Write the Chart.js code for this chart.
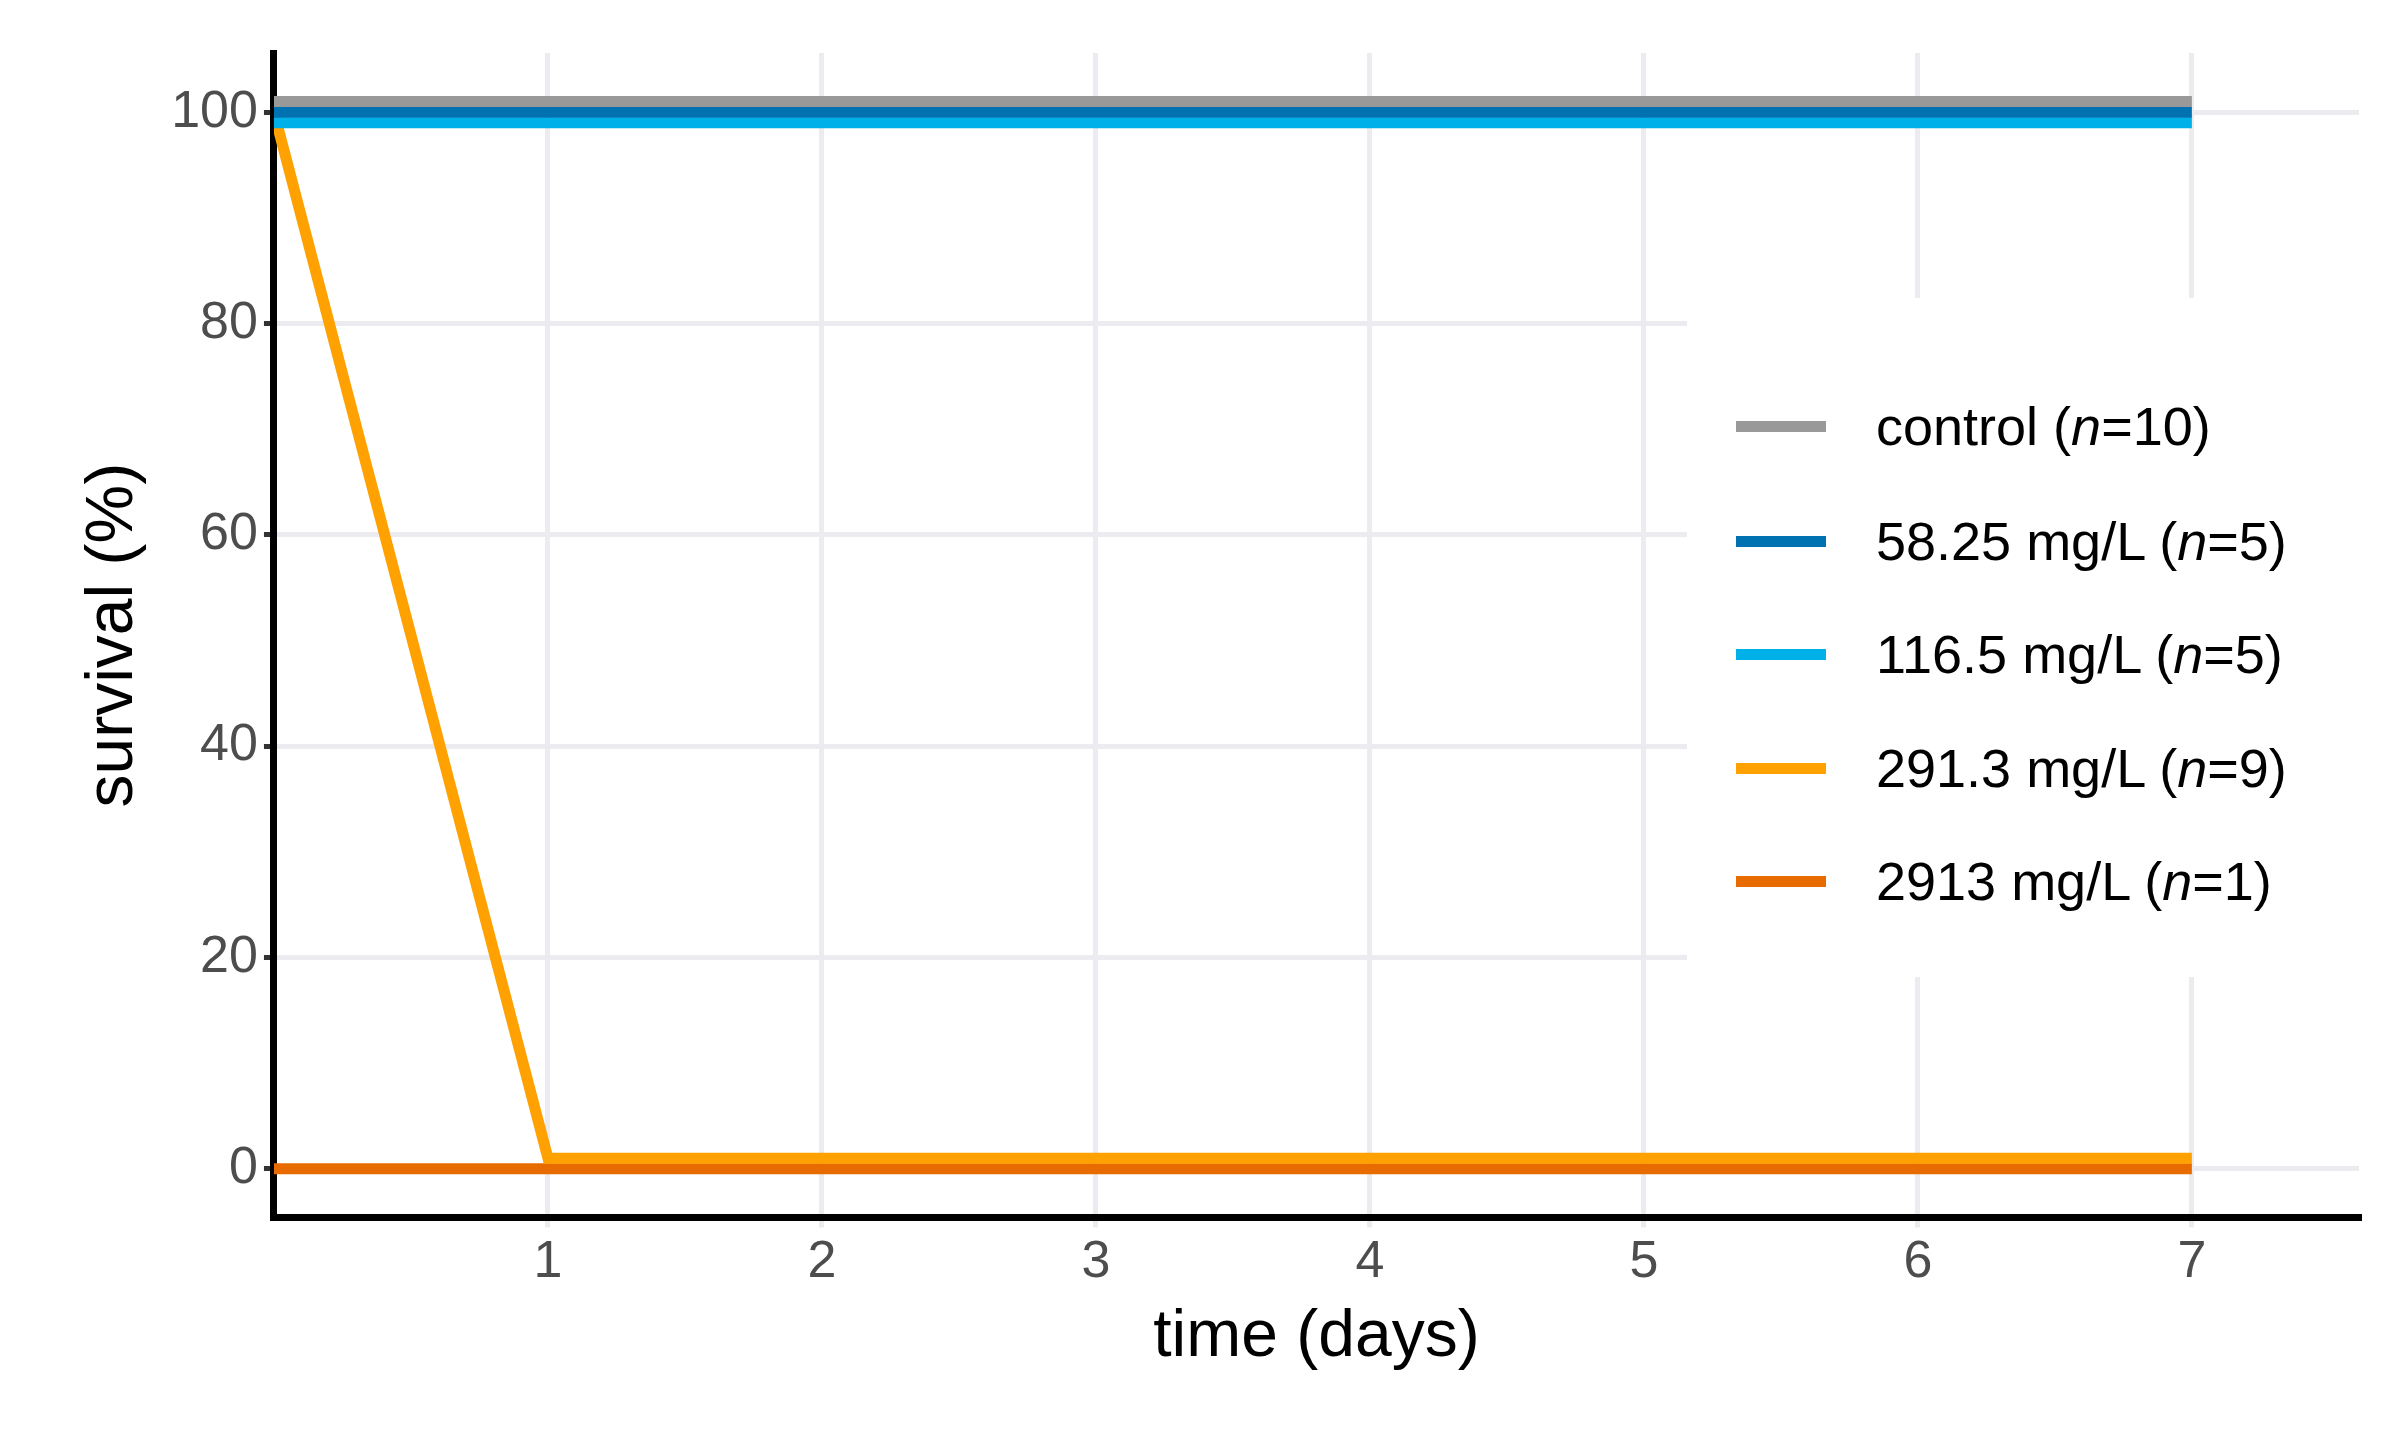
<!DOCTYPE html>
<html>
<head>
<meta charset="utf-8">
<script src="https://cdn.jsdelivr.net/npm/chart.js@4"></script>
<style>
  html, body { margin: 0; padding: 0; background: #fff; }
  #wrap { position: relative; width: 2382px; height: 1436px; }
  #legend { position: absolute; left: 1687px; top: 298px; width: 672px; height: 679px; background: #fff;
            font-family: "Liberation Sans", Arial, sans-serif; font-size: 54px; color: #000; }
  .row { position: absolute; left: 0; height: 60px; display: flex; align-items: center; }
  .sw { width: 90px; height: 11px; margin-left: 49px; margin-right: 50px; }
</style>
</head>
<body>
<div id="wrap">
  <canvas id="c" width="2382" height="1436"></canvas>
  <div id="legend"></div>
</div>
<script>
// survival data (small offsets separate overlapping lines)
const days = [0, 1, 2, 3, 4, 5, 6, 7];
const seriesNames = ['control (<i>n</i>=10)', '58.25 mg/L (<i>n</i>=5)', '116.5 mg/L (<i>n</i>=5)', '291.3 mg/L (<i>n</i>=9)', '2913 mg/L (<i>n</i>=1)'];
const seriesColors = ['#999999', '#0072b2', '#00b0e8', '#ffa100', '#e86b00'];
const control = [101, 101, 101, 101, 101, 101, 101, 101];
const dose58 = [100, 100, 100, 100, 100, 100, 100, 100];
const dose116 = [99, 99, 99, 99, 99, 99, 99, 99];
const dose291 = [100, 1, 1, 1, 1, 1, 1, 1];
const dose2913 = [0, 0, 0, 0, 0, 0, 0, 0];
const xTicks = [1, 2, 3, 4, 5, 6, 7];
const yTicks = [0, 20, 40, 60, 80, 100];

const allSeries = [control, dose58, dose116, dose291, dose2913];
const datasets = allSeries.map((vals, i) => ({
    label: seriesNames[i],
    data: vals.map((v, j) => ({ x: days[j], y: v })),
    borderColor: seriesColors[i],
    borderWidth: 11,
    pointRadius: 0,
    tension: 0,
    fill: false
}));

const tickFont = { family: 'Liberation Sans', size: 52 };
const titleFont = { family: 'Liberation Sans', size: 66 };

new Chart(document.getElementById('c'), {
    type: 'line',
    data: { datasets: datasets },
    options: {
        responsive: false,
        animation: false,
        layout: { padding: { top: 53, right: 23, left: 70, bottom: 55 } },
        plugins: { legend: { display: false }, tooltip: { enabled: false } },
        scales: {
            x: {
                type: 'linear',
                min: 0,
                max: 7.61,
                afterBuildTicks: axis => { axis.ticks = xTicks.map(v => ({ value: v })); },
                ticks: { font: tickFont, color: '#4d4d4d', padding: 4 },
                grid: { color: '#ebebf0', lineWidth: 5, tickLength: 10, tickColor: '#ebebf0' },
                border: { color: '#000', width: 7 },
                title: { display: true, text: 'time (days)', font: titleFont, color: '#000', padding: { top: 0 } }
            },
            y: {
                min: -4.6,
                max: 105.6,
                afterBuildTicks: axis => { axis.ticks = yTicks.map(v => ({ value: v })); },
                ticks: { font: tickFont, color: '#4d4d4d', padding: 6 },
                grid: { color: '#ebebf0', lineWidth: 5, tickLength: 10, tickColor: '#333' },
                border: { color: '#000', width: 7 },
                title: { display: true, text: 'survival (%)', font: titleFont, color: '#000', padding: { bottom: 12 } }
            }
        }
    }
});

// legend drawn as html over the plot, with white background hiding grid lines
const legend = document.getElementById('legend');
const rowTops = [98, 213, 326, 440, 553];
seriesNames.forEach((name, i) => {
    const row = document.createElement('div');
    row.className = 'row';
    row.style.top = rowTops[i] + 'px';
    row.innerHTML = '<div class="sw" style="background:' + seriesColors[i] + '"></div><span>' + name + '</span>';
    legend.appendChild(row);
});
</script>
</body>
</html>
